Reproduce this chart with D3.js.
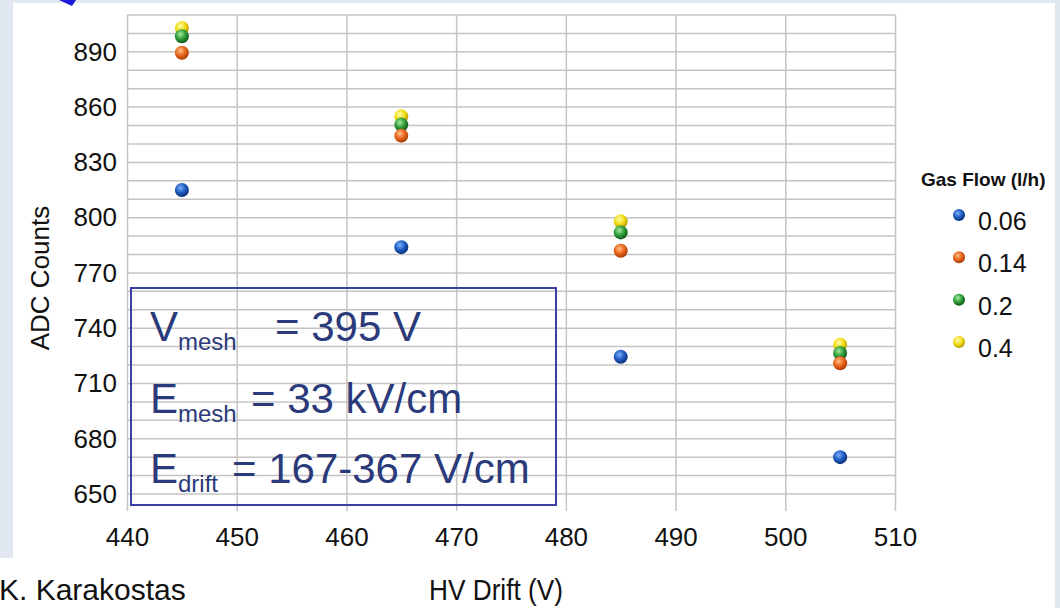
<!DOCTYPE html>
<html>
<head>
<meta charset="utf-8">
<script src="https://cdn.jsdelivr.net/npm/d3@7"></script>
<style>
  html, body { margin: 0; padding: 0; background: #e2e8f2; }
  svg { display: block; font-family: "Liberation Sans", Arial, sans-serif; }
</style>
</head>
<body>
<div id="chart"></div>
<script>
// data
const hvDrift = [445, 465, 485, 505];
const flow006 = [815, 784, 724.5, 670];
const flow014 = [889.5, 844.5, 782, 721];
const flow02 = [898.5, 850.5, 792, 726.5];
const flow04 = [903, 855, 798, 731];

const seriesNames = ["0.06", "0.14", "0.2", "0.4"];
const xTicks = [440, 450, 460, 470, 480, 490, 500, 510];
const yTicks = [650, 680, 710, 740, 770, 800, 830, 860, 890];

const series = [
  { name: seriesNames[0], values: flow006, color: ["#7fb0ff", "#1f5cc0", "#0b2f7a"] },
  { name: seriesNames[1], values: flow014, color: ["#ffc08a", "#e8641a", "#a83a05"] },
  { name: seriesNames[2], values: flow02, color: ["#a6eea0", "#2f9b3a", "#115a18"] },
  { name: seriesNames[3], values: flow04, color: ["#fffbb0", "#f2de16", "#b89a00"] }
];

const W = 1060, H = 608;
const svg = d3.select("#chart").append("svg")
  .attr("width", W)
  .attr("height", H);

// gradients for the glossy dots
const defs = svg.append("defs");
series.forEach((s, i) => {
  const g = defs.append("radialGradient")
    .attr("id", "dot" + i)
    .attr("cx", "40%").attr("cy", "35%").attr("r", "65%");
  g.append("stop").attr("offset", "0%").attr("stop-color", s.color[0]);
  g.append("stop").attr("offset", "55%").attr("stop-color", s.color[1]);
  g.append("stop").attr("offset", "100%").attr("stop-color", s.color[2]);
});

// slide background + white chart panel
svg.append("rect").attr("width", W).attr("height", H).attr("fill", "#e2e8f2");
svg.append("rect").attr("x", 13).attr("y", 3).attr("width", 1042).attr("height", H - 3).attr("fill", "#fff");
svg.append("rect").attr("x", 0).attr("y", 558).attr("width", 400).attr("height", 50).attr("fill", "#fff");
svg.append("polygon").attr("points", "59,0 76,0 72,6").attr("fill", "#1a1ad8");

const x = d3.scaleLinear().domain([440, 510]).range([127, 895]);
const y = d3.scaleLinear().domain([650, 910]).range([494, 15]);

// horizontal grid every 10
svg.append("g")
  .selectAll("line")
  .data(y.ticks(26))
  .join("line")
  .attr("x1", x(440)).attr("x2", x(510))
  .attr("y1", d => y(d)).attr("y2", d => y(d))
  .attr("stroke", "#c4c4c4").attr("stroke-width", 1.5);

// x axis, ticks run up as vertical grid
const xAxis = svg.append("g")
  .attr("transform", "translate(0,511)")
  .call(d3.axisBottom(x).tickValues(xTicks).tickSizeInner(-(511 - 15)).tickSizeOuter(0).tickPadding(17));
xAxis.select(".domain").remove();
xAxis.selectAll("line").attr("stroke", "#c4c4c4").attr("stroke-width", 1.5);
xAxis.selectAll("text").attr("font-size", 26).attr("fill", "#111");

// y axis labels
const yAxis = svg.append("g")
  .attr("transform", "translate(127,0)")
  .call(d3.axisLeft(y).tickValues(yTicks).tickSize(0).tickPadding(10));
yAxis.select(".domain").remove();
yAxis.selectAll("text").attr("font-size", 26).attr("fill", "#111");

// axis titles
svg.append("text")
  .attr("transform", "translate(49,278) rotate(-90)")
  .attr("text-anchor", "middle")
  .attr("font-size", 26)
  .attr("fill", "#111")
  .text("ADC Counts");

svg.append("text")
  .attr("x", 429).attr("y", 600)
  .attr("font-size", 30)
  .attr("textLength", 134).attr("lengthAdjust", "spacingAndGlyphs")
  .attr("fill", "#111")
  .text("HV Drift (V)");

svg.append("text")
  .attr("x", -1).attr("y", 600)
  .attr("font-size", 30)
  .attr("fill", "#111")
  .text("K. Karakostas");

// info box
const box = svg.append("g");
box.append("rect")
  .attr("x", 131).attr("y", 288).attr("width", 425).attr("height", 217)
  .attr("fill", "none").attr("stroke", "#3a3fa5").attr("stroke-width", 2);

const boxLines = [
  { main: "V", sub: "mesh", rest: "= 395 V", restX: 275, base: 341 },
  { main: "E", sub: "mesh", rest: "= 33 kV/cm", restX: 251, base: 413 },
  { main: "E", sub: "drift", rest: "= 167-367 V/cm", restX: 232, base: 483 }
];
boxLines.forEach(l => {
  const t = box.append("text").attr("y", l.base).attr("fill", "#2b3a7a");
  t.append("tspan").attr("x", 150).attr("font-size", 42).text(l.main);
  t.append("tspan").attr("dy", 9).attr("font-size", 24).text(l.sub);
  box.append("text").attr("x", l.restX).attr("y", l.base)
    .attr("font-size", 42).attr("fill", "#2b3a7a").text(l.rest);
});

// points: yellow first so orange/blue sit on top
const drawOrder = [3, 2, 1, 0];
drawOrder.forEach(i => {
  const s = series[i];
  svg.append("g")
    .selectAll("circle")
    .data(s.values.map((v, j) => ({ x: hvDrift[j], y: v })))
    .join("circle")
    .attr("cx", d => x(d.x))
    .attr("cy", d => y(d.y))
    .attr("r", 7)
    .attr("fill", `url(#dot${i})`);
});

// legend
const legend = svg.append("g");
legend.append("text")
  .attr("x", 921).attr("y", 186)
  .attr("font-size", 19).attr("font-weight", "bold").attr("fill", "#111")
  .text("Gas Flow (l/h)");

const legendBase = d3.scalePoint().domain(seriesNames).range([230, 357]);
series.forEach((s, i) => {
  const yy = legendBase(s.name);
  legend.append("circle")
    .attr("cx", 959).attr("cy", yy - 15).attr("r", 6)
    .attr("fill", `url(#dot${i})`);
  legend.append("text")
    .attr("x", 978).attr("y", yy)
    .attr("font-size", 25).attr("fill", "#111")
    .text(s.name);
});
</script>
</body>
</html>
